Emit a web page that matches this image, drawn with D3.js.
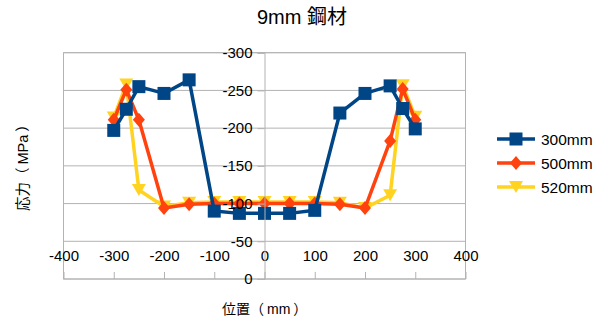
<!DOCTYPE html>
<html><head><meta charset="utf-8">
<script src="https://cdn.jsdelivr.net/npm/d3@7/dist/d3.min.js"></script>
<style>
html,body{margin:0;padding:0;background:#fff;}
svg{display:block;font-family:"Liberation Sans","Noto Sans CJK JP",sans-serif;}
</style></head>
<body>
<script>
const positions = [-300,-275,-250,-200,-150,-100,-50,0,50,100,150,200,250,275,300];
const s300 = [-197,-225,-255,-246,-264,-90,-87,-87,-87,-91,-220,-246,-256,-226,-199];
const s500 = [-211,-251,-211,-94,-99,-100,-100,-100,-100,-100,-99,-94,-183,-252,-211];
const s520 = [-214,-258,-118,-96,-101,-102,-102,-102,-102,-102,-101,-94,-111,-257,-215];
const seriesNames = ["300mm","500mm","520mm"];
const seriesColors = ["#004586","#ff420e","#ffd320"];
const seriesShapes = ["square","diamond","triangle"];
const xTicks = [-400,-300,-200,-100,0,100,200,300,400];
const yTicks = [-300,-250,-200,-150,-100,-50,0];
const title = "9mm 鋼材";
const xTitleParts = ["位置","（","mm","）"];
const yTitleParts = ["応力","（","MPa","）"];

(function(){
const W = 597, H = 323;
const pL = 63.5, pR = 465.5, pT = 52.7, pB = 279;
const x = d3.scaleLinear().domain([-400,400]).range([pL,pR]);
const y = d3.scaleLinear().domain([0,-300]).range([pB,pT]);

const svg = d3.select("body").append("svg").attr("width",W).attr("height",H);
const grid = "#b3b3b3";

svg.append("g").selectAll("line").data(yTicks).join("line")
  .attr("x1",pL).attr("x2",pR)
  .attr("y1",d=>y(d)).attr("y2",d=>y(d))
  .attr("stroke",grid).attr("stroke-width",1);
svg.append("rect").attr("x",pL).attr("y",pT).attr("width",pR-pL).attr("height",pB-pT)
  .attr("fill","none").attr("stroke",grid).attr("stroke-width",1);

const xAxis = svg.append("g").attr("transform",`translate(0,${pB})`)
  .call(d3.axisTop(x).tickValues(xTicks).tickSize(7).tickPadding(11).tickFormat(d=>String(d)));
xAxis.select(".domain").remove();
xAxis.selectAll("line").attr("stroke",grid);

const yAxis = svg.append("g").attr("transform",`translate(${x(0)},0)`)
  .call(d3.axisLeft(y).tickValues(yTicks).tickSize(7).tickPadding(5).tickFormat(d=>String(d)));
yAxis.select(".domain").attr("stroke",grid);
yAxis.selectAll("line").attr("stroke",grid);

function marker(g, shape, color){
  if(shape==="square"){
    g.append("rect").attr("x",-6.5).attr("y",-6.5).attr("width",13).attr("height",13).attr("fill",color);
  } else if(shape==="diamond"){
    g.append("path").attr("d","M0,-7L6,0L0,7L-6,0Z").attr("fill",color);
  } else {
    g.append("path").attr("d","M-7,-6L7,-6L0,6Z").attr("fill",color);
  }
}

const data = [s300,s500,s520];
const line = d3.line().x(d=>x(d[0])).y(d=>y(d[1]));
const plot = svg.append("g");
[2,1,0].forEach(i=>{
  const pts = positions.map((p,j)=>[p,data[i][j]]);
  const g = plot.append("g");
  g.append("path").datum(pts).attr("d",line).attr("fill","none")
    .attr("stroke",seriesColors[i]).attr("stroke-width",3.5).attr("stroke-linejoin","round");
  pts.forEach(p=>{
    const m = g.append("g").attr("transform",`translate(${x(p[0])},${y(p[1])})`);
    marker(m, seriesShapes[i], seriesColors[i]);
  });
});

xAxis.raise(); yAxis.raise();
svg.selectAll(".tick text").attr("fill","#000").style("font-size","15px")
  .style("font-family",'"Liberation Sans",sans-serif');

svg.append("text").attr("x",302).attr("y",24).attr("text-anchor","middle")
  .style("font-size","20px").attr("fill","#000").text(title);

const dxs = [0,0,3,3];
const xt = svg.append("text").attr("x",222).attr("y",313.5).attr("text-anchor","start")
  .style("font-size","14px").attr("fill","#000");
xTitleParts.forEach((t,i)=>xt.append("tspan").attr("dx",dxs[i]).text(t));
const yt = svg.append("text").attr("transform","translate(27.5,211) rotate(-90)").attr("text-anchor","start")
  .style("font-size","14.5px").attr("fill","#000");
yTitleParts.forEach((t,i)=>yt.append("tspan").attr("dx",dxs[i]).text(t));

const legY = [139,163,187];
seriesNames.forEach((n,i)=>{
  const g = svg.append("g");
  g.append("line").attr("x1",497).attr("x2",535).attr("y1",legY[i]).attr("y2",legY[i])
    .attr("stroke",seriesColors[i]).attr("stroke-width",3.5);
  const m = g.append("g").attr("transform",`translate(516,${legY[i]})`);
  marker(m, seriesShapes[i], seriesColors[i]);
  g.append("text").attr("x",541).attr("y",legY[i]).attr("dy","0.36em")
    .style("font-size","15.5px").attr("fill","#000").text(n);
});
})();
</script>
</body></html>
